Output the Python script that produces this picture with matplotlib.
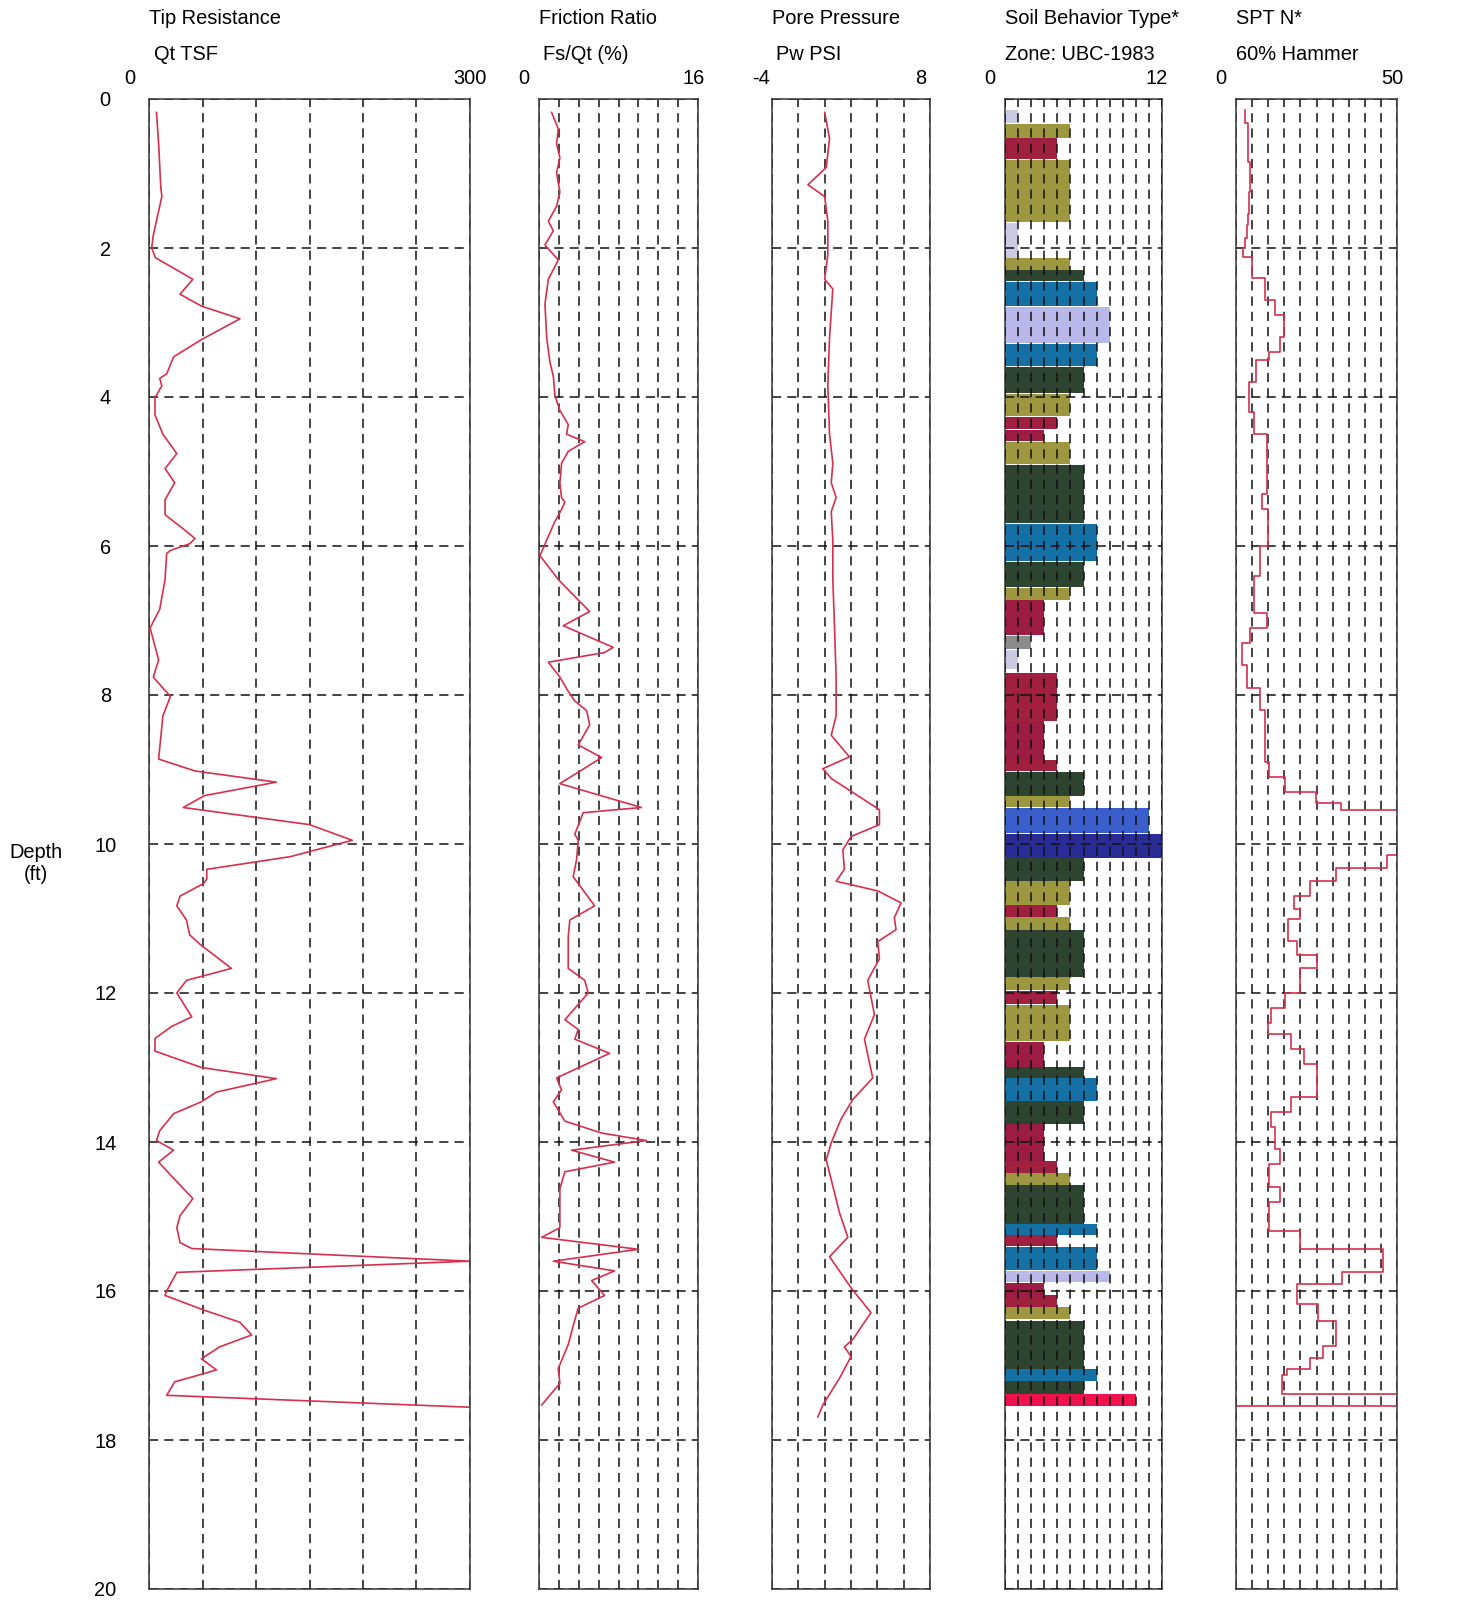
import numpy as np
import matplotlib.pyplot as plt

plt.rcParams['font.family'] = ['Liberation Sans', 'DejaVu Sans']

# Tip resistance Qt (TSF)
qt_depth = [0.18, 0.6, 1.18, 1.31, 1.83, 2.0, 2.13, 2.42, 2.62, 2.78, 2.95, 3.23, 3.46, 3.69, 3.75,
            3.85, 4.01, 4.24, 4.5, 4.76, 4.96, 5.15, 5.38, 5.58, 5.77, 5.9, 5.97, 6.06, 6.1, 6.45,
            6.85, 7.1, 7.53, 7.76, 8.02, 8.28, 8.86, 9.02, 9.17, 9.35, 9.51, 9.74, 9.95, 10.17,
            10.34, 10.47, 10.53, 10.7, 10.83, 11.02, 11.22, 11.35, 11.67, 11.83, 12.0, 12.32, 12.45,
            12.61, 12.78, 13.0, 13.15, 13.33, 13.46, 13.62, 13.85, 13.98, 14.11, 14.27, 14.44, 14.76,
            14.99, 15.15, 15.35, 15.43, 15.6, 15.75, 16.0, 16.06, 16.26, 16.42, 16.59, 16.75, 16.91,
            17.06, 17.22, 17.4, 17.56]
qt = [7, 9, 11, 12, 4, 2.5, 6, 41, 29, 49, 85, 49, 23, 16.5, 10,
      12, 5.6, 5.6, 13, 26, 15, 24, 15, 15, 32, 43, 38, 20, 16.5, 15,
      10, 1, 9, 4, 20, 13, 9, 43, 119, 52, 32, 150, 190, 132,
      54, 54, 51, 29, 26, 35, 38, 48, 77, 35, 26, 40, 21,
      5.6, 5.6, 49, 119, 63, 49, 23, 10, 7, 23, 9, 20, 41,
      29, 26, 29, 40, 300, 26, 16.5, 15, 52, 85, 96, 66, 49,
      63, 24, 16.5, 300]

# Friction ratio Fs/Qt (%)
fr_depth = [0.18, 0.4, 0.6, 0.79, 0.99, 1.25, 1.44, 1.64, 1.77, 1.96, 2.16, 2.42, 2.75, 3.2, 3.53,
            3.72, 3.98, 4.18, 4.37, 4.5, 4.6, 4.73, 4.89, 5.15, 5.35, 5.41, 5.51, 5.67, 5.87, 6.13,
            6.45, 6.88, 7.07, 7.36, 7.43, 7.56, 7.76, 7.95, 8.08, 8.21, 8.4, 8.67, 8.84, 9.19, 9.51,
            9.58, 9.87, 9.95, 10.21, 10.44, 10.83, 11.02, 11.25, 11.67, 11.83, 12.0, 12.36, 12.49,
            12.62, 12.81, 13.14, 13.3, 13.46, 13.72, 13.88, 13.98, 14.11, 14.27, 14.4, 14.63, 15.15,
            15.28, 15.44, 15.6, 15.73, 15.86, 16.06, 16.23, 16.39, 16.72, 17.04, 17.24, 17.53]
fr = [1.27, 1.94, 1.77, 2.1, 1.77, 2.1, 1.77, 0.94, 1.44, 0.6, 1.94, 0.94, 0.6, 0.77, 1.1,
      1.44, 1.6, 2.1, 2.94, 2.78, 4.6, 2.94, 2.27, 2.1, 2.27, 2.6, 2.27, 1.6, 0.94, 0.1,
      1.94, 5.1, 2.44, 7.46, 6.6, 0.94, 2.1, 2.94, 3.6, 4.8, 5.1, 3.95, 6.3, 2.1, 10.3,
      4.45, 3.6, 3.95, 3.78, 3.44, 5.6, 3.1, 2.94, 2.94, 4.6, 4.95, 2.6, 3.95,
      3.6, 7.1, 1.77, 2.27, 1.44, 2.6, 6.3, 10.8, 3.28, 7.6, 2.6, 2.1, 2.1,
      0.27, 10.0, 1.44, 7.6, 5.3, 6.6, 3.95, 3.6, 2.94, 1.94, 2.1, 0.27]

# Pore pressure Pw (PSI)
pw_depth = [0.18, 0.53, 0.92, 1.15, 1.31, 1.64, 2.09, 2.42, 2.55, 3.2, 3.85, 4.5, 4.89, 5.15, 5.35,
            5.54, 5.93, 6.45, 7.1, 7.76, 8.28, 8.54, 8.83, 8.99, 9.12, 9.54, 9.74, 9.9, 10.08, 10.34,
            10.5, 10.63, 10.79, 10.99, 11.15, 11.31, 11.54, 11.83, 12.29, 12.62, 13.14, 13.43, 13.69,
            14.01, 14.24, 14.95, 15.28, 15.54, 15.99, 16.29, 16.65, 16.75, 16.88, 17.17, 17.53, 17.69]
pw = [0.0, 0.37, 0.12, -1.27, 0.0, 0.24, 0.24, 0.0, 0.62, 0.37, 0.24, 0.37, 0.62, 0.5, 0.87,
      0.5, 0.62, 0.62, 0.75, 0.87, 0.87, 0.5, 1.88, -0.14, 0.5, 4.16, 4.16, 2.0, 1.38, 1.5,
      0.87, 4.03, 5.8, 5.29, 5.42, 4.03, 4.16, 3.27, 3.78, 3.02, 3.65, 2.14, 1.25,
      0.5, 0.12, 1.13, 1.76, 0.37, 2.14, 3.52, 2.14, 1.5, 2.0, 1.13, -0.14, -0.52]

# Soil behavior type zones (UBC-1983), one layer per entry
sbt_top = [0.15, 0.33, 0.53, 0.82, 1.66, 2.14, 2.30, 2.45, 2.79, 3.29, 3.60, 3.96, 4.27, 4.44, 4.60,
           4.91, 5.70, 6.21, 6.56, 6.73, 7.21, 7.40, 7.70, 8.35, 8.87, 9.03, 9.36, 9.52, 9.86, 10.19,
           10.49, 10.82, 10.98, 11.16, 11.79, 11.97, 12.16, 12.66, 12.99, 13.14, 13.45, 13.76, 14.26,
           14.42, 14.58, 15.10, 15.25, 15.41, 15.73, 15.89, 16.06, 16.22, 16.40, 17.05, 17.21, 17.38]
sbt_bot = [0.32, 0.52, 0.81, 1.65, 2.13, 2.29, 2.44, 2.78, 3.28, 3.59, 3.95, 4.26, 4.43, 4.59, 4.90,
           5.69, 6.20, 6.55, 6.72, 7.20, 7.38, 7.65, 8.35, 8.87, 9.02, 9.36, 9.51, 9.85, 10.19, 10.49,
           10.82, 10.98, 11.15, 11.79, 11.96, 12.15, 12.65, 12.99, 13.14, 13.45, 13.76, 14.26, 14.42,
           14.58, 15.10, 15.25, 15.40, 15.72, 15.88, 16.05, 16.21, 16.38, 17.05, 17.21, 17.38, 17.54]
sbt_zone = [1, 5, 4, 5, 1, 5, 6, 7, 8, 7, 6, 5, 4, 3, 5,
            6, 7, 6, 5, 3, 2, 1, 4, 3, 4, 6, 5, 11, 12, 6,
            5, 4, 5, 6, 5, 4, 5, 3, 6, 7, 6, 3, 4,
            5, 6, 7, 4, 7, 8, 3, 4, 5, 6, 7, 6, 10]

# SPT N* (60% hammer), step values starting at each depth
spt_depth = [0.15, 0.32, 0.84, 1.25, 1.55, 1.69, 1.86, 2.0, 2.12, 2.4, 2.7, 2.9, 3.2, 3.4, 3.5, 3.8,
             4.2, 4.5, 5.3, 5.5, 6.0, 6.4, 6.9, 7.1, 7.3, 7.6, 7.9, 8.2, 8.9, 9.1, 9.3, 9.45, 9.55,
             10.15, 10.32, 10.5, 10.7, 10.87, 11.0, 11.3, 11.49, 11.67, 12.0, 12.2, 12.4, 12.55,
             12.75, 12.95, 13.4, 13.6, 13.8, 14.1, 14.3, 14.6, 14.8, 15.2, 15.44, 15.74, 15.9,
             16.18, 16.4, 16.74, 16.9, 17.05, 17.13, 17.38, 17.55]
spt_n = [2.8, 3.8, 4.4, 4.1, 3.6, 3.3, 2.8, 2.3, 5, 9, 12, 15, 13.6, 10.4, 6.3, 4,
         5.7, 9.5, 8, 9.8, 7.6, 5.7, 9.5, 4.4, 1.9, 3.5, 7.3, 8.9, 10.4, 15.2, 24.7, 32.6, 60,
         47, 31, 23, 18, 20, 16, 19, 25, 20, 15.2, 11, 10, 17,
         21, 25, 17, 11, 12, 13.6, 10.4, 13.6, 10.4, 20, 45.8, 33, 18.9,
         25.6, 31, 27, 23, 15.8, 14.2, 60, 0]

titles = ['Tip Resistance', 'Friction Ratio', 'Pore Pressure', 'Soil Behavior Type*', 'SPT N*']
units = ['Qt TSF', 'Fs/Qt (%)', 'Pw PSI', 'Zone: UBC-1983', '60% Hammer']
x_min = [0, 0, -4, 0, 0]
x_max = [300, 16, 8, 12, 50]
x_step = [50, 2, 2, 1, 5]
min_labels = ['0', '0', '-4', '0', '0']
max_labels = ['300', '16', '8', '12', '50']
depth_ticks = np.arange(0, 21, 2)

zone_colors = {1: '#c9cbe2', 2: '#8c8c8c', 3: '#9c1c44', 4: '#a1203f', 5: '#9d9740',
               6: '#2c4430', 7: '#1570a6', 8: '#b8b8ea', 10: '#f0124c', 11: '#3b5ecd',
               12: '#2a2c96'}

# -------- layout (pixels) --------
W, H = 1464, 1600
top, bot = 99, 1589
panel_x = [(149, 470), (539, 698), (772, 930), (1005, 1162), (1236, 1397)]
min_dx = [-19, -15, -11, -15, -15]
max_dx = [0, -4, -9, -5, -5]
unit_dx = [5, 4, 4, 0, 0]
fs = 14.4

red = '#d6304e'
fig = plt.figure(figsize=(W / 100, H / 100), dpi=100)

axes = []
for i, (x0, x1) in enumerate(panel_x):
    ax = fig.add_axes([x0 / W, 1 - bot / H, (x1 - x0) / W, (bot - top) / H])
    ax.set_xlim(x_min[i], x_max[i])
    ax.set_ylim(20, 0)
    ax.set_xticks(np.arange(x_min[i], x_max[i] + x_step[i] / 2, x_step[i]))
    ax.set_yticks(depth_ticks)
    ax.tick_params(length=0, labelbottom=False, labelleft=False)
    ax.grid(True, color='#111111', lw=1.1, ls=(0, (6, 4)))
    for s in ax.spines.values():
        s.set_linewidth(1.1)
        s.set_color('#333333')

    ax.annotate(titles[i], xy=(0, 1), xycoords='axes fraction', xytext=(0, 81),
                textcoords='offset pixels', ha='left', va='center', fontsize=fs)
    ax.annotate(units[i], xy=(0, 1), xycoords='axes fraction', xytext=(unit_dx[i], 45),
                textcoords='offset pixels', ha='left', va='center', fontsize=fs)
    ax.annotate(min_labels[i], xy=(0, 1), xycoords='axes fraction', xytext=(min_dx[i], 20),
                textcoords='offset pixels', ha='center', va='center', fontsize=fs)
    ax.annotate(max_labels[i], xy=(1, 1), xycoords='axes fraction', xytext=(max_dx[i], 20),
                textcoords='offset pixels', ha='center', va='center', fontsize=fs)
    axes.append(ax)

# Tip resistance
ax = axes[0]
ax.plot(qt, qt_depth, color=red, lw=1.2)
ax.tick_params(labelleft=True, pad=31.5)
ax.set_yticklabels([str(d) for d in depth_ticks], fontsize=fs)
for lbl in ax.get_yticklabels():
    lbl.set_horizontalalignment('center')

# Friction ratio
axes[1].plot(fr, fr_depth, color=red, lw=1.2)

# Pore pressure
axes[2].plot(pw, pw_depth, color=red, lw=1.2)

# Soil behavior type
ax = axes[3]
ax.set_axisbelow(False)
top_arr = np.array(sbt_top)
bot_arr = np.array(sbt_bot)
ax.barh((top_arr + bot_arr) / 2, sbt_zone, height=bot_arr - top_arr, left=0,
        color=[zone_colors[z] for z in sbt_zone], edgecolor='none', zorder=1)

# SPT N* as steps
ax = axes[4]
n_arr = np.array(spt_n)
d_arr = np.array(spt_depth)
ax.plot(np.repeat(n_arr, 2)[:-1], np.repeat(d_arr, 2)[1:], color=red, lw=1.2)

fig.text(36 / W, 1 - 863 / H, 'Depth\n(ft)', ha='center', va='center', fontsize=fs)

fig.savefig('out.png', dpi=100, facecolor='white')
